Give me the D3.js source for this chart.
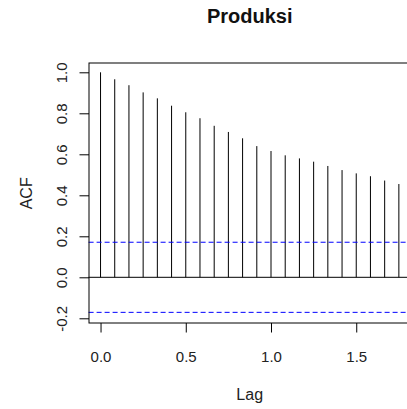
<!DOCTYPE html>
<html>
<head>
<meta charset="utf-8">
<script src="https://cdn.jsdelivr.net/npm/d3@7"></script>
<style>
  body { margin: 0; background: #fff; }
  svg { display: block; font-family: "Liberation Sans", Arial, sans-serif; }
</style>
</head>
<body>
<svg id="chart" width="407" height="409"></svg>
<script>
;(function (d3) {
  // ACF of the series, monthly lags (in years)
  var lags = [0, 0.0833, 0.1667, 0.25, 0.3333, 0.4167, 0.5, 0.5833, 0.6667, 0.75, 0.8333,
    0.9167, 1, 1.0833, 1.1667, 1.25, 1.3333, 1.4167, 1.5, 1.5833, 1.6667, 1.75]
  var acf = [1.000, 0.966, 0.937, 0.902, 0.873, 0.837, 0.805, 0.776, 0.739, 0.709, 0.678,
    0.640, 0.616, 0.595, 0.580, 0.564, 0.543, 0.523, 0.507, 0.493, 0.472, 0.455]
  var ciBound = [0.171, -0.171]
  var xTicks = [0, 0.5, 1, 1.5]
  var yTicks = [-0.2, 0, 0.2, 0.4, 0.6, 0.8, 1.0]

  var svg = d3.select('#chart')

  var x = d3.scaleLinear().domain([-0.07, 1.82]).range([88.6, 410.8])
  var y = d3.scaleLinear().domain([-0.2244, 1.0439]).range([323.3, 63.3])

  var left = x.range()[0], right = x.range()[1]
  var top = y.range()[1], bottom = y.range()[0]

  // R-style labels use a plain hyphen for negatives
  var fmt = function (d) { return d3.format('.1f')(d).replace('\u2212', '-') }

  // title
  svg.append('text')
    .attr('x', (left + right) / 2)
    .attr('y', 23)
    .attr('text-anchor', 'middle')
    .attr('fill', '#111')
    .style('font-size', '20px')
    .style('font-weight', 'bold')
    .text('Produksi')

  // zero line
  svg.append('line')
    .attr('x1', left).attr('x2', right)
    .attr('y1', y(0)).attr('y2', y(0))
    .attr('stroke', '#000')

  // spikes
  svg.selectAll('line.spike')
    .data(acf)
    .enter().append('line')
    .attr('class', 'spike')
    .attr('x1', function (d, i) { return x(lags[i]) })
    .attr('x2', function (d, i) { return x(lags[i]) })
    .attr('y1', y(0))
    .attr('y2', function (d) { return y(d) })
    .attr('stroke', '#000')

  // confidence bounds
  svg.selectAll('line.ci')
    .data(ciBound)
    .enter().append('line')
    .attr('class', 'ci')
    .attr('x1', left).attr('x2', right)
    .attr('y1', function (d) { return y(d) })
    .attr('y2', function (d) { return y(d) })
    .attr('stroke', '#0000ff')
    .attr('stroke-dasharray', '5,3')

  // box, on pixel boundaries so it renders soft grey like the original
  svg.append('rect')
    .attr('x', Math.round(left)).attr('y', Math.round(top))
    .attr('width', Math.round(right) - Math.round(left))
    .attr('height', Math.round(bottom) - Math.round(top))
    .attr('fill', 'none')
    .attr('stroke', '#000')

  // x axis
  var xAxis = svg.append('g')
    .attr('transform', 'translate(0,' + Math.round(bottom) + ')')
    .call(d3.axisBottom(x).tickValues(xTicks).tickFormat(fmt).tickSize(9.5).tickPadding(0))
  xAxis.select('.domain').remove()
  xAxis.selectAll('text')
    .attr('dy', null)
    .attr('y', 38.5)
    .attr('fill', '#222')
    .style('font-size', '15px')

  // y axis
  var yAxis = svg.append('g')
    .attr('transform', 'translate(' + Math.round(left) + ',0)')
    .call(d3.axisLeft(y).tickValues(yTicks).tickFormat(fmt).tickSize(9.5))
  yAxis.select('.domain').remove()
  yAxis.selectAll('text')
    .attr('dy', null)
    .attr('x', 0)
    .attr('y', -22)
    .attr('transform', 'rotate(-90)')
    .attr('text-anchor', 'middle')
    .attr('fill', '#222')
    .style('font-size', '15px')
  svg.selectAll('.tick line').attr('stroke', '#000')
  svg.selectAll('.tick').style('font-family', null)

  // axis titles
  svg.append('text')
    .attr('x', (left + right) / 2)
    .attr('y', 400)
    .attr('text-anchor', 'middle')
    .attr('fill', '#222')
    .style('font-size', '16px')
    .text('Lag')

  svg.append('text')
    .attr('transform', 'translate(32,' + (top + bottom) / 2 + ') rotate(-90)')
    .attr('text-anchor', 'middle')
    .attr('fill', '#222')
    .style('font-size', '16px')
    .text('ACF')
})(window.d3)
</script>
</body>
</html>
